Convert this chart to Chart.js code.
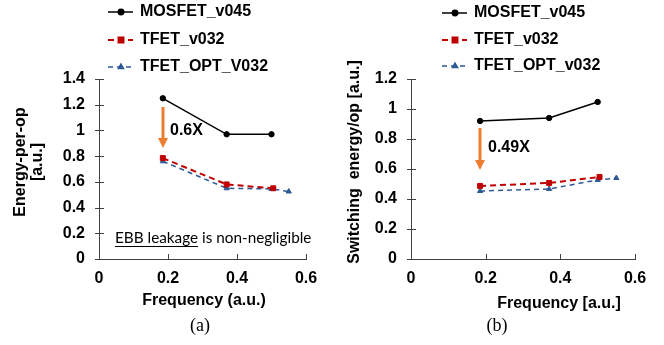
<!DOCTYPE html>
<html>
<head>
<meta charset="utf-8">
<script src="https://cdn.jsdelivr.net/npm/chart.js@4.4.0/dist/chart.umd.min.js"></script>
<style>
  html, body { margin: 0; padding: 0; background: #fff; }
  .panel { position: absolute; top: 0; width: 332px; height: 345px; }
</style>
</head>
<body>
<div class="panel" style="left:0"><canvas id="chartA"></canvas></div>
<div class="panel" style="left:332px"><canvas id="chartB"></canvas></div>
<script>
// ---- data ----
const freqMos = [0.185, 0.37, 0.5];
const freqTfet = [0.185, 0.37, 0.505];
const freqOpt = [0.185, 0.37, 0.5, 0.55];

// (a) energy-per-op
const energyMos = [1.25, 0.97, 0.97];
const energyTfet = [0.785, 0.58, 0.55];
const energyOpt = [0.76, 0.55, 0.545, 0.525];

// (b) switching energy/op
const switchMos = [0.92, 0.94, 1.047];
const switchTfet = [0.487, 0.507, 0.547];
const switchOpt = [0.453, 0.467, 0.527, 0.54];

const xTicks = [0, 0.2, 0.4, 0.6];
const yTicksA = [0, 0.2, 0.4, 0.6, 0.8, 1, 1.2, 1.4];
const yTicksB = [0, 0.2, 0.4, 0.6, 0.8, 1, 1.2];

const namesA = ['MOSFET_v045', 'TFET_v032', 'TFET_OPT_V032'];
const namesB = ['MOSFET_v045', 'TFET_v032', 'TFET_OPT_v032'];

const BOLD = 'bold 16px "Liberation Sans", Arial, sans-serif';
const axisColor = '#404040';
const orange = '#ed7d31';

const styles = [
  { color: '#000000', dash: [], width: 1.5, point: 'circle', r: 2.7 },
  { color: '#c00000', dash: [6, 4], width: 2, point: 'rect', r: 3.5 },
  { color: '#2e5a94', dash: [5, 4], width: 1.5, point: 'triangle', r: 3 }
];

const pts = (xs, ys) => xs.map((x, i) => ({ x: x, y: ys[i] }));

function makeSets(names, mos, tfet, opt) {
  const data = [pts(freqMos, mos), pts(freqTfet, tfet), pts(freqOpt, opt)];
  return names.map((n, i) => ({
    label: n,
    data: data[i],
    borderColor: styles[i].color,
    backgroundColor: styles[i].color,
    borderWidth: styles[i].width,
    borderDash: styles[i].dash,
    pointStyle: styles[i].point,
    pointRadius: styles[i].r,
    pointBorderWidth: 1,
    tension: 0
  }));
}

// draws ticks, legend, titles and notes at fixed spots
const decor = {
  id: 'decor',
  afterDraw(chart, args, o) {
    const ctx = chart.ctx;
    const xs = chart.scales.x, ys = chart.scales.y;
    const area = chart.chartArea;
    ctx.save();
    ctx.strokeStyle = axisColor;
    ctx.lineWidth = 1;
    ys.ticks.forEach(t => {
      const py = Math.round(ys.getPixelForValue(t.value)) + 0.5;
      ctx.beginPath(); ctx.moveTo(area.left - 4, py); ctx.lineTo(area.left + 5, py); ctx.stroke();
    });
    xs.ticks.forEach(t => {
      const px = Math.round(xs.getPixelForValue(t.value)) + 0.5;
      ctx.beginPath(); ctx.moveTo(px, area.bottom - 5); ctx.lineTo(px, area.bottom + 1); ctx.stroke();
    });

    // legend
    chart.data.datasets.forEach((ds, i) => {
      const st = styles[i];
      const ly = o.legend.y[i];
      ctx.save();
      ctx.strokeStyle = st.color;
      ctx.lineWidth = st.width;
      ctx.setLineDash(st.dash);
      ctx.beginPath(); ctx.moveTo(o.legend.x, ly); ctx.lineTo(o.legend.x + 25, ly); ctx.stroke();
      ctx.setLineDash([]);
      ctx.fillStyle = st.color;
      Chart.helpers.drawPoint(ctx, { pointStyle: st.point, radius: st.r, borderWidth: 1, rotation: 0 }, o.legend.x + 13, ly);
      ctx.restore();
      ctx.fillStyle = '#000';
      ctx.font = BOLD;
      ctx.textBaseline = 'middle';
      ctx.textAlign = 'left';
      ctx.fillText(ds.label, o.legend.x + 32, ly);
    });

    // axis titles
    ctx.fillStyle = '#000';
    ctx.font = BOLD;
    ctx.textAlign = 'center';
    ctx.textBaseline = 'middle';
    ctx.fillText(o.xTitle.text, o.xTitle.x, o.xTitle.y);
    o.yTitle.lines.forEach((txt, i) => {
      ctx.save();
      ctx.translate(o.yTitle.x[i], o.yTitle.y);
      ctx.rotate(-Math.PI / 2);
      ctx.fillText(txt, 0, 0);
      ctx.restore();
    });

    // orange arrow and factor label
    const ar = o.arrow;
    ctx.strokeStyle = orange;
    ctx.fillStyle = orange;
    ctx.lineWidth = 3;
    ctx.beginPath(); ctx.moveTo(ar.x, ar.y0); ctx.lineTo(ar.x, ar.y1 - 9); ctx.stroke();
    ctx.beginPath(); ctx.moveTo(ar.x - 5, ar.y1 - 10); ctx.lineTo(ar.x + 5, ar.y1 - 10); ctx.lineTo(ar.x, ar.y1); ctx.closePath(); ctx.fill();
    ctx.fillStyle = '#000';
    ctx.font = BOLD;
    ctx.textAlign = 'left';
    ctx.fillText(ar.label, ar.lx, ar.ly);

    // note
    if (o.note) {
      ctx.font = '15.3px Lato, "Liberation Sans", sans-serif';
      ctx.textAlign = 'left';
      ctx.textBaseline = 'alphabetic';
      ctx.fillText(o.note.under + o.note.rest, o.note.x, o.note.y);
      const w = ctx.measureText(o.note.under).width;
      ctx.lineWidth = 1;
      ctx.strokeStyle = '#000';
      ctx.beginPath(); ctx.moveTo(o.note.x, o.note.y + 3.5); ctx.lineTo(o.note.x + w, o.note.y + 3.5); ctx.stroke();
    }

    // caption
    ctx.font = '18px "Liberation Serif", "Times New Roman", serif';
    ctx.textAlign = 'center';
    ctx.textBaseline = 'middle';
    ctx.fillText(o.caption.text, o.caption.x, o.caption.y);
    ctx.restore();
  }
};

function buildChart(id, sets, yMax, yTicks, pad, leftW, decorOpts) {
  return new Chart(document.getElementById(id), {
    type: 'line',
    data: { datasets: sets },
    plugins: [decor],
    options: {
      responsive: true,
      maintainAspectRatio: false,
      devicePixelRatio: 1,
      animation: false,
      layout: { padding: pad },
      plugins: { legend: { display: false }, tooltip: { enabled: false }, decor: decorOpts },
      scales: {
        x: {
          type: 'linear', min: 0, max: 0.6,
          afterFit: s => { s.height = 86; },
          afterBuildTicks: s => { s.ticks = xTicks.map(v => ({ value: v })); },
          grid: { display: false, drawTicks: false },
          border: { color: axisColor, width: 1 },
          ticks: { padding: 10, color: '#000', font: { family: '"Liberation Sans", Arial, sans-serif', size: 16, weight: 'bold' },
                   maxRotation: 0, callback: v => String(+v.toFixed(1)) }
        },
        y: {
          type: 'linear', min: 0, max: yMax,
          afterFit: s => { s.width = leftW; },
          afterBuildTicks: s => { s.ticks = yTicks.map(v => ({ value: v })); },
          grid: { display: false, drawTicks: false },
          border: { color: axisColor, width: 1 },
          ticks: { padding: 14, color: '#000', font: { family: '"Liberation Sans", Arial, sans-serif', size: 16, weight: 'bold' },
                   callback: v => String(+v.toFixed(1)) }
        }
      }
    }
  });
}

buildChart('chartA', makeSets(namesA, energyMos, energyTfet, energyOpt), 1.4, yTicksA,
  { top: 79, right: 26, left: 0, bottom: 0 }, 99, {
    legend: { x: 108, y: [12, 40, 67] },
    xTitle: { text: 'Frequency (a.u.)', x: 204, y: 301 },
    yTitle: { lines: ['Energy-per-op', '[a.u.]'], x: [21, 38], y: 162 },
    arrow: { x: 163, y0: 107, y1: 148, label: '0.6X', lx: 170, ly: 131 },
    note: { under: 'EBB leakage', rest: ' is non-negligible', x: 115, y: 243 },
    caption: { text: '(a)', x: 200, y: 326 }
  });

buildChart('chartB', makeSets(namesB, switchMos, switchTfet, switchOpt), 1.2, yTicksB,
  { top: 79, right: 29, left: 0, bottom: 0 }, 79, {
    legend: { x: 110, y: [13, 40, 66] },
    xTitle: { text: 'Frequency [a.u.]', x: 227, y: 304 },
    yTitle: { lines: ['Switching  energy/op [a.u.]'], x: [23], y: 162 },
    arrow: { x: 148, y0: 128, y1: 170, label: '0.49X', lx: 156, ly: 148 },
    note: null,
    caption: { text: '(b)', x: 165, y: 326 }
  });
</script>
</body>
</html>
